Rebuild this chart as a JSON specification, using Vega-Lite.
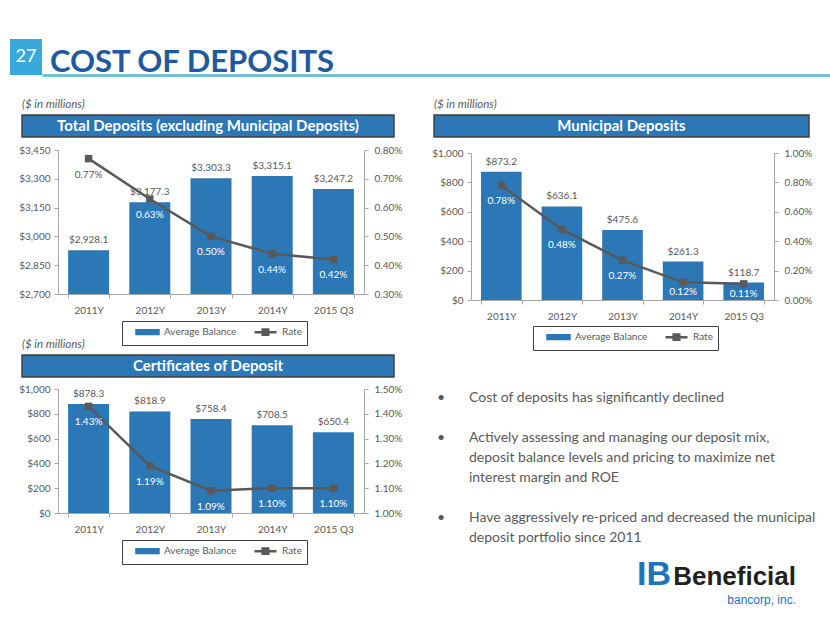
{
  "$schema": "https://vega.github.io/schema/vega-lite/v6.json",
  "background": "white",
  "padding": {"left": 10, "top": 39, "right": 0, "bottom": 0},
  "config": {
    "font": "Lato",
    "view": {"stroke": null},
    "axis": {"labelFont": "Lato", "labelFontSize": 10, "labelColor": "#595959", "domainColor": "#a6a6a6", "tickColor": "#a6a6a6", "tickSize": 4, "grid": false, "labelOverlap": false},
    "legend": {"labelFont": "Lato", "gridAlign": "all", "labelBaseline": "middle"},
    "title": {"font": "Lato"}
  },
  "spacing": 18,
  "resolve": {"scale": {"color": "independent"}, "legend": {"color": "independent"}},
  "vconcat": [
    {
      "spacing": 0,
      "hconcat": [
        {
          "width": 32, "height": 36,
          "view": {"fill": "#39a9dc", "stroke": null},
          "data": {"values": [{"t": "27"}]},
          "mark": {"type": "text", "color": "white", "fontSize": 18, "baseline": "middle", "align": "center"},
          "encoding": {
            "text": {"field": "t"},
            "x": {"datum": 0.5, "type": "quantitative", "scale": {"domain": [0, 1]}, "axis": null},
            "y": {"datum": 0.5, "type": "quantitative", "scale": {"domain": [0, 1]}, "axis": null}
          }
        },
        {
          "width": 788, "height": 36,
          "data": {"values": [{"t": "COST OF DEPOSITS"}]},
          "mark": {"type": "text", "align": "left", "baseline": "alphabetic", "dx": 8, "color": "#1f5aa0", "fontSize": 31, "fontWeight": "bold"},
          "encoding": {
            "text": {"field": "t"},
            "x": {"datum": 0, "type": "quantitative", "scale": {"domain": [0, 1]}, "axis": {"title": null, "labels": false, "ticks": false, "domainColor": "#5ab4e0", "domainWidth": 2.5}},
            "y": {"datum": 0.08, "type": "quantitative", "scale": {"domain": [0, 1]}, "axis": null}
          }
        }
      ]
    },
    {
      "spacing": 7,
      "resolve": {"scale": {"color": "independent"}, "legend": {"color": "independent"}},
      "hconcat": [
        {"width": 1, "height": 1, "data": {"values": []}, "mark": "point"},
        {
          "spacing": 29,
          "resolve": {"scale": {"color": "independent"}, "legend": {"color": "independent"}},
          "hconcat": [
            {
              "spacing": -9,
              "resolve": {"scale": {"color": "independent"}, "legend": {"color": "independent"}},
              "vconcat": [
                {
                  "spacing": 7,
                  "resolve": {"scale": {"color": "independent"}, "legend": {"color": "independent"}},
                  "vconcat": [
                    {
                      "width": 372, "height": 22,
                      "view": {"fill": "#2c77b5", "stroke": "#404040", "strokeWidth": 1.5},
                      "title": {"text": "($ in millions)", "anchor": "start", "fontSize": 11.5, "fontStyle": "italic", "fontWeight": "normal", "color": "#595959", "offset": 5},
                      "data": {"values": [{"t": "Total Deposits (excluding Municipal Deposits)"}]},
                      "mark": {"type": "text", "color": "white", "fontSize": 15, "fontWeight": "bold", "baseline": "middle", "align": "center"},
                      "encoding": {
                        "text": {"field": "t"},
                        "x": {"datum": 0.5, "type": "quantitative", "scale": {"domain": [0, 1]}, "axis": null},
                        "y": {"datum": 0.5, "type": "quantitative", "scale": {"domain": [0, 1]}, "axis": null}
                      }
                    },
                    {
                      "spacing": -5,
                      "resolve": {"scale": {"color": "independent"}, "legend": {"color": "independent"}},
                      "hconcat": [
                        {"width": 1, "height": 1, "data": {"values": []}, "mark": "point"},
                        {
                          "width": 306, "height": 144,
                          "data": {"values": [
                            {"period": "2011Y", "balance": 2928.1, "rate": 0.0077},
                            {"period": "2012Y", "balance": 3177.3, "rate": 0.0063},
                            {"period": "2013Y", "balance": 3303.3, "rate": 0.0050},
                            {"period": "2014Y", "balance": 3315.1, "rate": 0.0044},
                            {"period": "2015 Q3", "balance": 3247.2, "rate": 0.0042}
                          ]},
                          "encoding": {"x": {"field": "period", "type": "nominal", "sort": null, "scale": {"paddingInner": 0.33, "paddingOuter": 0.165}, "axis": {"title": null, "labelAngle": 0, "tickBand": "extent", "labelPadding": 7}}},
                          "layer": [
                            {"layer": [
                              {"mark": {"type": "bar", "clip": true},
                               "encoding": {
                                 "y": {"field": "balance", "type": "quantitative", "scale": {"domain": [2700, 3450], "zero": false, "nice": false}, "axis": {"title": null, "values": [2700, 2850, 3000, 3150, 3300, 3450], "tickCount": 12, "format": "$,.0f", "labelPadding": 4, "labelOverlap": false}},
                                 "color": {"datum": "Average Balance", "type": "nominal", "scale": {"domain": ["Average Balance", "Rate"], "range": ["#2c77b5", "#595959"]},
                                   "legend": {"title": null, "orient": "none", "legendX": 64, "legendY": 171, "direction": "horizontal", "strokeColor": "#404040", "padding": 5, "symbolSize": 144, "labelFontSize": 10, "labelColor": "#595959", "labelOffset": 22, "columnPadding": 8,
                                     "encode": {
                                       "symbols": {"update": {
                                         "y": {"value": 6},
                                         "shape": {"signal": "datum.value === 'Rate' ? 'M0.33,0H4M1.7,-0.45H2.63V0.45H1.7Z' : 'M0.33,-0.3H4V0.3H0.33ZM2,-0.45V0.45'"},
                                         "fill": {"signal": "datum.value === 'Rate' ? '#595959' : '#2c77b5'"},
                                         "stroke": {"signal": "datum.value === 'Rate' ? '#595959' : '#2c77b5'"},
                                         "strokeWidth": {"value": 2.5},
                                         "opacity": {"value": 1}
                                       }},
                                       "labels": {"update": {"y": {"value": 6}, "baseline": {"value": "middle"}}}
                                     }}}
                               }},
                              {"mark": {"type": "text", "dy": -10, "fontSize": 10, "color": "#595959"},
                               "encoding": {"y": {"field": "balance", "type": "quantitative"}, "text": {"field": "balance", "type": "quantitative", "format": "$,.1f"}}}
                            ]},
                            {"layer": [
                              {"mark": {"type": "line", "strokeWidth": 2.5},
                               "encoding": {
                                 "y": {"field": "rate", "type": "quantitative", "scale": {"domain": [0.003, 0.008], "zero": false, "nice": false}, "axis": {"title": null, "orient": "right", "values": [0.003, 0.004, 0.005, 0.006, 0.007, 0.008], "tickCount": 12, "format": ".2%", "labelPadding": 6, "labelOverlap": false}},
                                 "color": {"datum": "Rate", "type": "nominal",
                                   "legend": {"title": null, "orient": "none", "legendX": 64, "legendY": 171, "direction": "horizontal", "strokeColor": "#404040", "padding": 5, "symbolSize": 144, "labelFontSize": 10, "labelColor": "#595959", "labelOffset": 22, "columnPadding": 8,
                                     "encode": {
                                       "symbols": {"update": {
                                         "y": {"value": 6},
                                         "shape": {"signal": "datum.value === 'Rate' ? 'M0.33,0H4M1.7,-0.45H2.63V0.45H1.7Z' : 'M0.33,-0.3H4V0.3H0.33ZM2,-0.45V0.45'"},
                                         "fill": {"signal": "datum.value === 'Rate' ? '#595959' : '#2c77b5'"},
                                         "stroke": {"signal": "datum.value === 'Rate' ? '#595959' : '#2c77b5'"},
                                         "strokeWidth": {"value": 2.5},
                                         "opacity": {"value": 1}
                                       }},
                                       "labels": {"update": {"y": {"value": 6}, "baseline": {"value": "middle"}}}
                                     }}}
                               }},
                              {"mark": {"type": "point", "shape": "square", "filled": true, "size": 55, "color": "#595959", "opacity": 1},
                               "encoding": {"y": {"field": "rate", "type": "quantitative"}}},
                              {"mark": {"type": "text", "dy": 16, "fontSize": 10},
                               "encoding": {"y": {"field": "rate", "type": "quantitative"}, "text": {"field": "rate", "type": "quantitative", "format": ".2%"}, "color": {"condition": {"test": "datum.rate > 0.007", "value": "#595959"}, "value": "white"}}}
                            ]}
                          ],
                          "resolve": {"scale": {"y": "independent"}}
                        }
                      ]
                    }
                  ]
                },
                {
                  "spacing": 6,
                  "resolve": {"scale": {"color": "independent"}, "legend": {"color": "independent"}},
                  "vconcat": [
                    {
                      "width": 372, "height": 22,
                      "view": {"fill": "#2c77b5", "stroke": "#404040", "strokeWidth": 1.5},
                      "title": {"text": "($ in millions)", "anchor": "start", "fontSize": 11.5, "fontStyle": "italic", "fontWeight": "normal", "color": "#595959", "offset": 5},
                      "data": {"values": [{"t": "Certificates of Deposit"}]},
                      "mark": {"type": "text", "color": "white", "fontSize": 15, "fontWeight": "bold", "baseline": "middle", "align": "center"},
                      "encoding": {
                        "text": {"field": "t"},
                        "x": {"datum": 0.5, "type": "quantitative", "scale": {"domain": [0, 1]}, "axis": null},
                        "y": {"datum": 0.5, "type": "quantitative", "scale": {"domain": [0, 1]}, "axis": null}
                      }
                    },
                    {
                      "spacing": -5,
                      "resolve": {"scale": {"color": "independent"}, "legend": {"color": "independent"}},
                      "hconcat": [
                        {"width": 1, "height": 1, "data": {"values": []}, "mark": "point"},
                        {
                          "width": 306, "height": 124,
                          "data": {"values": [
                            {"period": "2011Y", "balance": 878.3, "rate": 0.0143},
                            {"period": "2012Y", "balance": 818.9, "rate": 0.0119},
                            {"period": "2013Y", "balance": 758.4, "rate": 0.0109},
                            {"period": "2014Y", "balance": 708.5, "rate": 0.0110},
                            {"period": "2015 Q3", "balance": 650.4, "rate": 0.0110}
                          ]},
                          "encoding": {"x": {"field": "period", "type": "nominal", "sort": null, "scale": {"paddingInner": 0.33, "paddingOuter": 0.165}, "axis": {"title": null, "labelAngle": 0, "tickBand": "extent", "labelPadding": 7}}},
                          "layer": [
                            {"layer": [
                              {"mark": {"type": "bar", "clip": true},
                               "encoding": {
                                 "y": {"field": "balance", "type": "quantitative", "scale": {"domain": [0, 1000], "nice": false}, "axis": {"title": null, "values": [0, 200, 400, 600, 800, 1000], "tickCount": 12, "format": "$,.0f", "labelPadding": 4, "labelOverlap": false}},
                                 "color": {"datum": "Average Balance", "type": "nominal", "scale": {"domain": ["Average Balance", "Rate"], "range": ["#2c77b5", "#595959"]},
                                   "legend": {"title": null, "orient": "none", "legendX": 64, "legendY": 151, "direction": "horizontal", "strokeColor": "#404040", "padding": 5, "symbolSize": 144, "labelFontSize": 10, "labelColor": "#595959", "labelOffset": 22, "columnPadding": 8,
                                     "encode": {
                                       "symbols": {"update": {
                                         "y": {"value": 6},
                                         "shape": {"signal": "datum.value === 'Rate' ? 'M0.33,0H4M1.7,-0.45H2.63V0.45H1.7Z' : 'M0.33,-0.3H4V0.3H0.33ZM2,-0.45V0.45'"},
                                         "fill": {"signal": "datum.value === 'Rate' ? '#595959' : '#2c77b5'"},
                                         "stroke": {"signal": "datum.value === 'Rate' ? '#595959' : '#2c77b5'"},
                                         "strokeWidth": {"value": 2.5},
                                         "opacity": {"value": 1}
                                       }},
                                       "labels": {"update": {"y": {"value": 6}, "baseline": {"value": "middle"}}}
                                     }}}
                               }},
                              {"mark": {"type": "text", "dy": -10, "fontSize": 10, "color": "#595959"},
                               "encoding": {"y": {"field": "balance", "type": "quantitative"}, "text": {"field": "balance", "type": "quantitative", "format": "$,.1f"}}}
                            ]},
                            {"layer": [
                              {"mark": {"type": "line", "strokeWidth": 2.5},
                               "encoding": {
                                 "y": {"field": "rate", "type": "quantitative", "scale": {"domain": [0.01, 0.015], "zero": false, "nice": false}, "axis": {"title": null, "orient": "right", "values": [0.01, 0.011, 0.012, 0.013, 0.014, 0.015], "tickCount": 12, "format": ".2%", "labelPadding": 6, "labelOverlap": false}},
                                 "color": {"datum": "Rate", "type": "nominal",
                                   "legend": {"title": null, "orient": "none", "legendX": 64, "legendY": 151, "direction": "horizontal", "strokeColor": "#404040", "padding": 5, "symbolSize": 144, "labelFontSize": 10, "labelColor": "#595959", "labelOffset": 22, "columnPadding": 8,
                                     "encode": {
                                       "symbols": {"update": {
                                         "y": {"value": 6},
                                         "shape": {"signal": "datum.value === 'Rate' ? 'M0.33,0H4M1.7,-0.45H2.63V0.45H1.7Z' : 'M0.33,-0.3H4V0.3H0.33ZM2,-0.45V0.45'"},
                                         "fill": {"signal": "datum.value === 'Rate' ? '#595959' : '#2c77b5'"},
                                         "stroke": {"signal": "datum.value === 'Rate' ? '#595959' : '#2c77b5'"},
                                         "strokeWidth": {"value": 2.5},
                                         "opacity": {"value": 1}
                                       }},
                                       "labels": {"update": {"y": {"value": 6}, "baseline": {"value": "middle"}}}
                                     }}}
                               }},
                              {"mark": {"type": "point", "shape": "square", "filled": true, "size": 55, "color": "#595959", "opacity": 1},
                               "encoding": {"y": {"field": "rate", "type": "quantitative"}}},
                              {"mark": {"type": "text", "dy": 16, "fontSize": 10, "color": "white"},
                               "encoding": {"y": {"field": "rate", "type": "quantitative"}, "text": {"field": "rate", "type": "quantitative", "format": ".2%"}}}
                            ]}
                          ],
                          "resolve": {"scale": {"y": "independent"}}
                        }
                      ]
                    }
                  ]
                }
              ]
            },
            {
              "spacing": 40,
              "resolve": {"scale": {"color": "independent"}, "legend": {"color": "independent"}},
              "vconcat": [
                {
                  "spacing": 10,
                  "resolve": {"scale": {"color": "independent"}, "legend": {"color": "independent"}},
                  "vconcat": [
                    {
                      "width": 375, "height": 22,
                      "view": {"fill": "#2c77b5", "stroke": "#404040", "strokeWidth": 1.5},
                      "title": {"text": "($ in millions)", "anchor": "start", "fontSize": 11.5, "fontStyle": "italic", "fontWeight": "normal", "color": "#595959", "offset": 5},
                      "data": {"values": [{"t": "Municipal Deposits"}]},
                      "mark": {"type": "text", "color": "white", "fontSize": 15, "fontWeight": "bold", "baseline": "middle", "align": "center"},
                      "encoding": {
                        "text": {"field": "t"},
                        "x": {"datum": 0.5, "type": "quantitative", "scale": {"domain": [0, 1]}, "axis": null},
                        "y": {"datum": 0.5, "type": "quantitative", "scale": {"domain": [0, 1]}, "axis": null}
                      }
                    },
                    {
                      "spacing": -4,
                      "resolve": {"scale": {"color": "independent"}, "legend": {"color": "independent"}},
                      "hconcat": [
                        {"width": 1, "height": 1, "data": {"values": []}, "mark": "point"},
                        {
                          "width": 303, "height": 147,
                          "data": {"values": [
                            {"period": "2011Y", "balance": 873.2, "rate": 0.0078},
                            {"period": "2012Y", "balance": 636.1, "rate": 0.0048},
                            {"period": "2013Y", "balance": 475.6, "rate": 0.0027},
                            {"period": "2014Y", "balance": 261.3, "rate": 0.0012},
                            {"period": "2015 Q3", "balance": 118.7, "rate": 0.0011}
                          ]},
                          "encoding": {"x": {"field": "period", "type": "nominal", "sort": null, "scale": {"paddingInner": 0.33, "paddingOuter": 0.165}, "axis": {"title": null, "labelAngle": 0, "tickBand": "extent", "labelPadding": 7}}},
                          "layer": [
                            {"layer": [
                              {"mark": {"type": "bar", "clip": true},
                               "encoding": {
                                 "y": {"field": "balance", "type": "quantitative", "scale": {"domain": [0, 1000], "nice": false}, "axis": {"title": null, "values": [0, 200, 400, 600, 800, 1000], "tickCount": 12, "format": "$,.0f", "labelPadding": 4, "labelOverlap": false}},
                                 "color": {"datum": "Average Balance", "type": "nominal", "scale": {"domain": ["Average Balance", "Rate"], "range": ["#2c77b5", "#595959"]},
                                   "legend": {"title": null, "orient": "none", "legendX": 62, "legendY": 173, "direction": "horizontal", "strokeColor": "#404040", "padding": 5, "symbolSize": 144, "labelFontSize": 10, "labelColor": "#595959", "labelOffset": 22, "columnPadding": 8,
                                     "encode": {
                                       "symbols": {"update": {
                                         "y": {"value": 6},
                                         "shape": {"signal": "datum.value === 'Rate' ? 'M0.33,0H4M1.7,-0.45H2.63V0.45H1.7Z' : 'M0.33,-0.3H4V0.3H0.33ZM2,-0.45V0.45'"},
                                         "fill": {"signal": "datum.value === 'Rate' ? '#595959' : '#2c77b5'"},
                                         "stroke": {"signal": "datum.value === 'Rate' ? '#595959' : '#2c77b5'"},
                                         "strokeWidth": {"value": 2.5},
                                         "opacity": {"value": 1}
                                       }},
                                       "labels": {"update": {"y": {"value": 6}, "baseline": {"value": "middle"}}}
                                     }}}
                               }},
                              {"mark": {"type": "text", "dy": -10, "fontSize": 10, "color": "#595959"},
                               "encoding": {"y": {"field": "balance", "type": "quantitative"}, "text": {"field": "balance", "type": "quantitative", "format": "$,.1f"}}}
                            ]},
                            {"layer": [
                              {"mark": {"type": "line", "strokeWidth": 2.5},
                               "encoding": {
                                 "y": {"field": "rate", "type": "quantitative", "scale": {"domain": [0, 0.01], "nice": false}, "axis": {"title": null, "orient": "right", "values": [0, 0.002, 0.004, 0.006, 0.008, 0.01], "tickCount": 12, "format": ".2%", "labelPadding": 6, "labelOverlap": false}},
                                 "color": {"datum": "Rate", "type": "nominal",
                                   "legend": {"title": null, "orient": "none", "legendX": 62, "legendY": 173, "direction": "horizontal", "strokeColor": "#404040", "padding": 5, "symbolSize": 144, "labelFontSize": 10, "labelColor": "#595959", "labelOffset": 22, "columnPadding": 8,
                                     "encode": {
                                       "symbols": {"update": {
                                         "y": {"value": 6},
                                         "shape": {"signal": "datum.value === 'Rate' ? 'M0.33,0H4M1.7,-0.45H2.63V0.45H1.7Z' : 'M0.33,-0.3H4V0.3H0.33ZM2,-0.45V0.45'"},
                                         "fill": {"signal": "datum.value === 'Rate' ? '#595959' : '#2c77b5'"},
                                         "stroke": {"signal": "datum.value === 'Rate' ? '#595959' : '#2c77b5'"},
                                         "strokeWidth": {"value": 2.5},
                                         "opacity": {"value": 1}
                                       }},
                                       "labels": {"update": {"y": {"value": 6}, "baseline": {"value": "middle"}}}
                                     }}}
                               }},
                              {"mark": {"type": "point", "shape": "square", "filled": true, "size": 55, "color": "#595959", "opacity": 1},
                               "encoding": {"y": {"field": "rate", "type": "quantitative"}}},
                              {"transform": [{"filter": "datum.rate >= 0.002"}],
                               "mark": {"type": "text", "dy": 16, "fontSize": 10, "color": "white"},
                               "encoding": {"y": {"field": "rate", "type": "quantitative"}, "text": {"field": "rate", "type": "quantitative", "format": ".2%"}}},
                              {"transform": [{"filter": "datum.rate < 0.002"}],
                               "mark": {"type": "text", "dy": 10, "fontSize": 10, "color": "white"},
                               "encoding": {"y": {"field": "rate", "type": "quantitative"}, "text": {"field": "rate", "type": "quantitative", "format": ".2%"}}}
                            ]}
                          ],
                          "resolve": {"scale": {"y": "independent"}}
                        }
                      ]
                    }
                  ]
                },
                {
                  "width": 375, "height": 196,
                  "data": {"values": [
                    {"item": "text",
                     "dots": ["•", "\u200b", "•", "\u200b", "\u200b", "\u200b", "•", "\u200b"],
                     "lines": ["Cost of deposits has significantly declined", "\u200b", "Actively assessing and managing our deposit mix,", "deposit balance levels and pricing to maximize net", "interest margin and ROE", "\u200b", "Have aggressively re-priced and decreased the municipal", "deposit portfolio since 2011"]}
                  ]},
                  "encoding": {
                    "y": {"field": "item", "type": "nominal", "scale": {"type": "point", "domain": ["text", "logo"], "padding": 0}, "axis": null},
                    "x": {"datum": 0, "type": "quantitative", "scale": {"domain": [0, 1]}, "axis": null}
                  },
                  "layer": [
                    {"mark": {"type": "text", "align": "left", "baseline": "middle", "dx": 35, "fontSize": 14, "lineHeight": 20, "color": "#595959"},
                     "encoding": {"text": {"field": "lines"}}},
                    {"mark": {"type": "text", "align": "center", "baseline": "middle", "dx": 7, "fontSize": 14, "lineHeight": 20, "color": "#595959"},
                     "encoding": {"text": {"field": "dots"}}},
                    {"data": {"values": [{"item": "logo", "t": "IB"}]},
                     "mark": {"type": "text", "align": "left", "baseline": "alphabetic", "dx": -172, "dy": -9, "fontSize": 34, "fontWeight": "bold", "font": "Liberation Sans", "color": "#1c75bc"},
                     "encoding": {"x": {"datum": 1, "type": "quantitative"}, "text": {"field": "t"}}},
                    {"data": {"values": [{"item": "logo", "t": "Beneficial"}]},
                     "mark": {"type": "text", "align": "right", "baseline": "alphabetic", "dx": -13, "dy": -9, "fontSize": 26, "fontWeight": "bold", "font": "Liberation Sans", "color": "#231f20"},
                     "encoding": {"x": {"datum": 1, "type": "quantitative"}, "text": {"field": "t"}}},
                    {"data": {"values": [{"item": "logo", "t": "bancorp, inc."}]},
                     "mark": {"type": "text", "align": "right", "baseline": "middle", "dx": -13, "dy": 6, "fontSize": 12, "font": "Liberation Sans", "color": "#1c75bc"},
                     "encoding": {"x": {"datum": 1, "type": "quantitative"}, "text": {"field": "t"}}}
                  ]
                }
              ]
            }
          ]
        }
      ]
    }
  ]
}
